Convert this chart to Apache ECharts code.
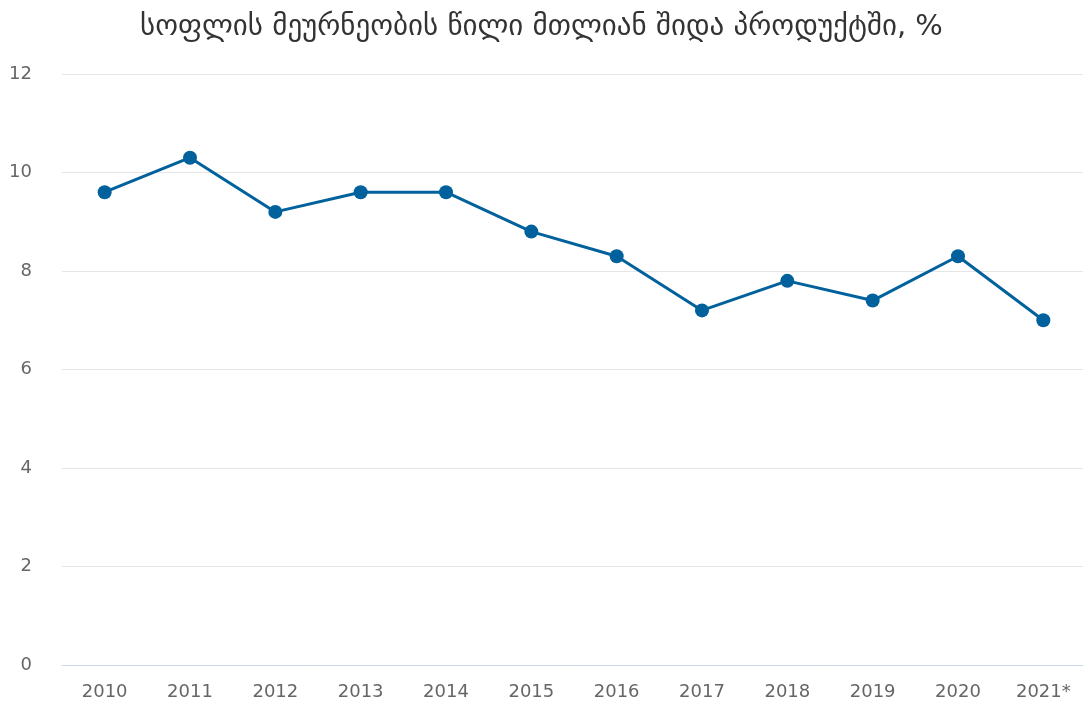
<!DOCTYPE html>
<html>
<head>
<meta charset="utf-8">
<script src="https://cdn.jsdelivr.net/npm/echarts@6/dist/echarts.min.js"></script>
<style>
  html, body { margin: 0; padding: 0; background: #fff; }
  #chart { width: 1083px; height: 704px; }
</style>
</head>
<body>
<div id="chart"></div>
<script>
const chartTitle = 'სოფლის მეურნეობის წილი მთლიან შიდა პროდუქტში, %';
const years = ['2010', '2011', '2012', '2013', '2014', '2015', '2016', '2017', '2018', '2019', '2020', '2021*'];
const agriShare = [9.6, 10.3, 9.2, 9.6, 9.6, 8.8, 8.3, 7.2, 7.8, 7.4, 8.3, 7.0];

const myChart = echarts.init(document.getElementById('chart'));

const option = {
  animation: false,
  title: {
    text: chartTitle,
    left: 'center',
    top: 8,
    textStyle: {
      fontFamily: 'DejaVu Sans',
      fontSize: 29,
      fontWeight: 'normal',
      color: '#333'
    }
  },
  grid: {
    left: 62,
    right: -3,
    top: 74,
    bottom: 39,
    containLabel: false,
    outerBoundsMode: 'none'
  },
  xAxis: {
    type: 'category',
    data: years,
    boundaryGap: true,
    axisLine: { lineStyle: { color: '#ccd6eb', width: 1 } },
    axisTick: { show: false },
    axisLabel: {
      color: '#666',
      fontFamily: 'DejaVu Sans',
      fontSize: 18,
      margin: 18
    }
  },
  yAxis: {
    type: 'value',
    min: 0,
    max: 12,
    interval: 2,
    axisLine: { show: false },
    axisTick: { show: false },
    splitLine: { lineStyle: { color: '#e6e6e6', width: 1 } },
    axisLabel: {
      color: '#666',
      fontFamily: 'DejaVu Sans',
      fontSize: 18,
      margin: 30
    }
  },
  series: [{
    name: chartTitle,
    type: 'line',
    data: agriShare,
    symbol: 'circle',
    symbolSize: 14,
    itemStyle: { color: '#00619c' },
    lineStyle: { color: '#00619c', width: 3 }
  }]
};

myChart.setOption(option);
window.addEventListener('resize', () => myChart.resize());
</script>
</body>
</html>
